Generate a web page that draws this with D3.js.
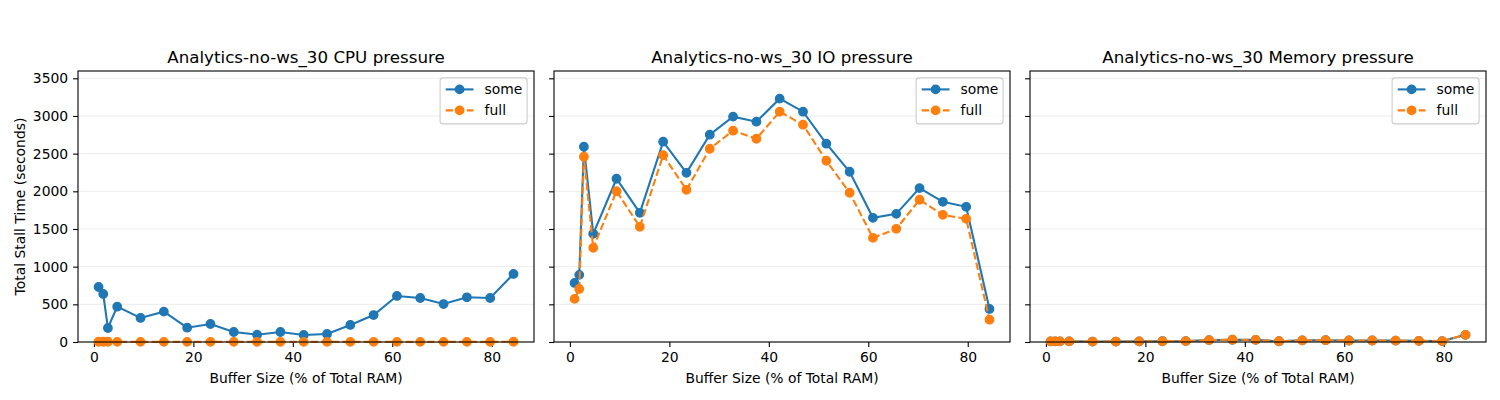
<!DOCTYPE html>
<html>
<head>
<meta charset="utf-8">
<script src="https://cdn.jsdelivr.net/npm/d3@7"></script>
<style>
  body { margin: 0; background: #fff; }
  svg { font-family: "DejaVu Sans", sans-serif; }
</style>
</head>
<body>
<svg id="chart" width="1500" height="400"></svg>
<script>
// buffer sizes (% of total RAM)
const bufferPct = [0.9375, 1.875, 2.8125, 4.6875, 9.375, 14.0625, 18.75, 23.4375, 28.125, 32.8125,
  37.5, 42.1875, 46.875, 51.5625, 56.25, 60.9375, 65.625, 70.3125, 75.0, 79.6875, 84.375];

const panelTitles = ["Analytics-no-ws_30 CPU pressure", "Analytics-no-ws_30 IO pressure", "Analytics-no-ws_30 Memory pressure"];
const seriesNames = ["some", "full"];
const yTicks = [0, 500, 1000, 1500, 2000, 2500, 3000, 3500];
const xTicks = [0, 20, 40, 60, 80];

const cpuSome = [730, 637, 186, 469, 319, 403, 190, 239, 133, 97, 133, 93, 106, 226, 358, 611, 584, 504, 593, 584, 903];
const cpuFull = [3, 3, 3, 2, 2, 2, 2, 2, 2, 2, 2, 2, 2, 2, 2, 2, 2, 2, 2, 2, 3];
const ioSome = [784, 891, 2592, 1436, 2167, 1715, 2659, 2246, 2752, 2991, 2924, 3230, 3057, 2632, 2260, 1648, 1701, 2042, 1861, 1794, 439];
const ioFull = [572, 704, 2459, 1250, 2002, 1529, 2480, 2020, 2565, 2805, 2698, 3057, 2884, 2406, 1981, 1382, 1502, 1888, 1688, 1635, 296];
const memSome = [8, 8, 8, 8, 6, 6, 8, 10, 12, 25, 30, 28, 10, 22, 24, 20, 20, 18, 15, 12, 95];
const memFull = [8, 8, 8, 8, 6, 6, 8, 10, 12, 25, 30, 28, 10, 22, 24, 20, 20, 18, 15, 12, 95];

const panelData = [[cpuSome, cpuFull], [ioSome, ioFull], [memSome, memFull]];

const COLORS = ["#1f77b4", "#ff7f0e"];
const DASH = [null, "7.4,3.2"];

const chart = d3.select("#chart");
const panelLeft = [78, 554, 1030];
const panelW = 456, panelTop = 71, panelH = 271;

const xScale = d3.scaleLinear().domain([-3.2, 88.5]).range([0, panelW]);
const yScale = d3.scaleLinear().domain([0, 3597]).range([panelH, 0]);

panelData.forEach((series, p) => {
  const g = chart.append("g")
    .attr("transform", `translate(${panelLeft[p]},${panelTop})`);

  // grid
  g.append("g").selectAll("line")
    .data(yTicks).enter()
    .append("line")
    .attr("x1", 0).attr("x2", panelW)
    .attr("y1", d => yScale(d)).attr("y2", d => yScale(d))
    .attr("stroke", "#b0b0b0")
    .attr("stroke-opacity", 0.3)
    .attr("stroke-width", 0.8);

  // axes
  const xAxis = d3.axisBottom(xScale).tickValues(xTicks).tickSize(4.9).tickPadding(4.9);
  const xAxisG = g.append("g").attr("transform", `translate(0,${panelH})`).call(xAxis);
  const yAxis = d3.axisLeft(yScale).tickValues(yTicks).tickSize(4.9).tickPadding(4.9)
    .tickFormat(p === 0 ? d3.format("d") : () => "");
  const yAxisG = g.append("g").call(yAxis);
  [xAxisG, yAxisG].forEach(a => {
    a.select(".domain").remove();
    a.selectAll("line").attr("stroke", "#000").attr("stroke-width", 1.1);
    a.selectAll("text").attr("font-size", "13.9px").attr("fill", "#000")
      .attr("font-family", "DejaVu Sans");
  });

  // lines and markers
  series.forEach((vals, s) => {
    const line = d3.line()
      .x((d, i) => xScale(bufferPct[i]))
      .y(d => yScale(d));
    g.append("path")
      .datum(vals)
      .attr("d", line)
      .attr("fill", "none")
      .attr("stroke", COLORS[s])
      .attr("stroke-width", 2.1)
      .attr("stroke-dasharray", DASH[s]);
    g.append("g").selectAll("circle")
      .data(vals).enter()
      .append("circle")
      .attr("cx", (d, i) => xScale(bufferPct[i]))
      .attr("cy", d => yScale(d))
      .attr("r", 4.2)
      .attr("fill", COLORS[s])
      .attr("stroke", COLORS[s])
      .attr("stroke-width", 1.4);
  });

  // frame
  g.append("rect")
    .attr("width", panelW).attr("height", panelH)
    .attr("fill", "none").attr("stroke", "#000").attr("stroke-width", 1.1);

  // title
  g.append("text")
    .text(panelTitles[p])
    .attr("x", panelW / 2).attr("y", -8.5)
    .attr("text-anchor", "middle")
    .attr("font-size", "16.7px");

  // x label
  g.append("text")
    .text("Buffer Size (% of Total RAM)")
    .attr("x", panelW / 2).attr("y", panelH + 41)
    .attr("text-anchor", "middle")
    .attr("font-size", "13.9px");

  // legend
  const lg = g.append("g").attr("transform", `translate(${panelW - 6.9 - 87},6.9)`);
  lg.append("rect")
    .attr("width", 87).attr("height", 46)
    .attr("rx", 3).attr("ry", 3)
    .attr("fill", "#fff").attr("fill-opacity", 0.8)
    .attr("stroke", "#cccccc").attr("stroke-width", 1.1);
  seriesNames.forEach((name, s) => {
    const cy = 11.5 + s * 21;
    lg.append("line")
      .attr("x1", 5.6).attr("x2", 33.4)
      .attr("y1", cy).attr("y2", cy)
      .attr("stroke", COLORS[s]).attr("stroke-width", 2.1)
      .attr("stroke-dasharray", DASH[s]);
    lg.append("circle")
      .attr("cx", 19.5).attr("cy", cy).attr("r", 4.2)
      .attr("fill", COLORS[s])
      .attr("stroke", COLORS[s])
      .attr("stroke-width", 1.4);
    lg.append("text")
      .text(name)
      .attr("x", 44.5).attr("y", cy + 5)
      .attr("font-size", "13.9px");
  });
});

// y label
chart.append("text")
  .text("Total Stall Time (seconds)")
  .attr("transform", `translate(25,${panelTop + panelH / 2}) rotate(-90)`)
  .attr("text-anchor", "middle")
  .attr("font-size", "13.9px");
</script>
</body>
</html>
